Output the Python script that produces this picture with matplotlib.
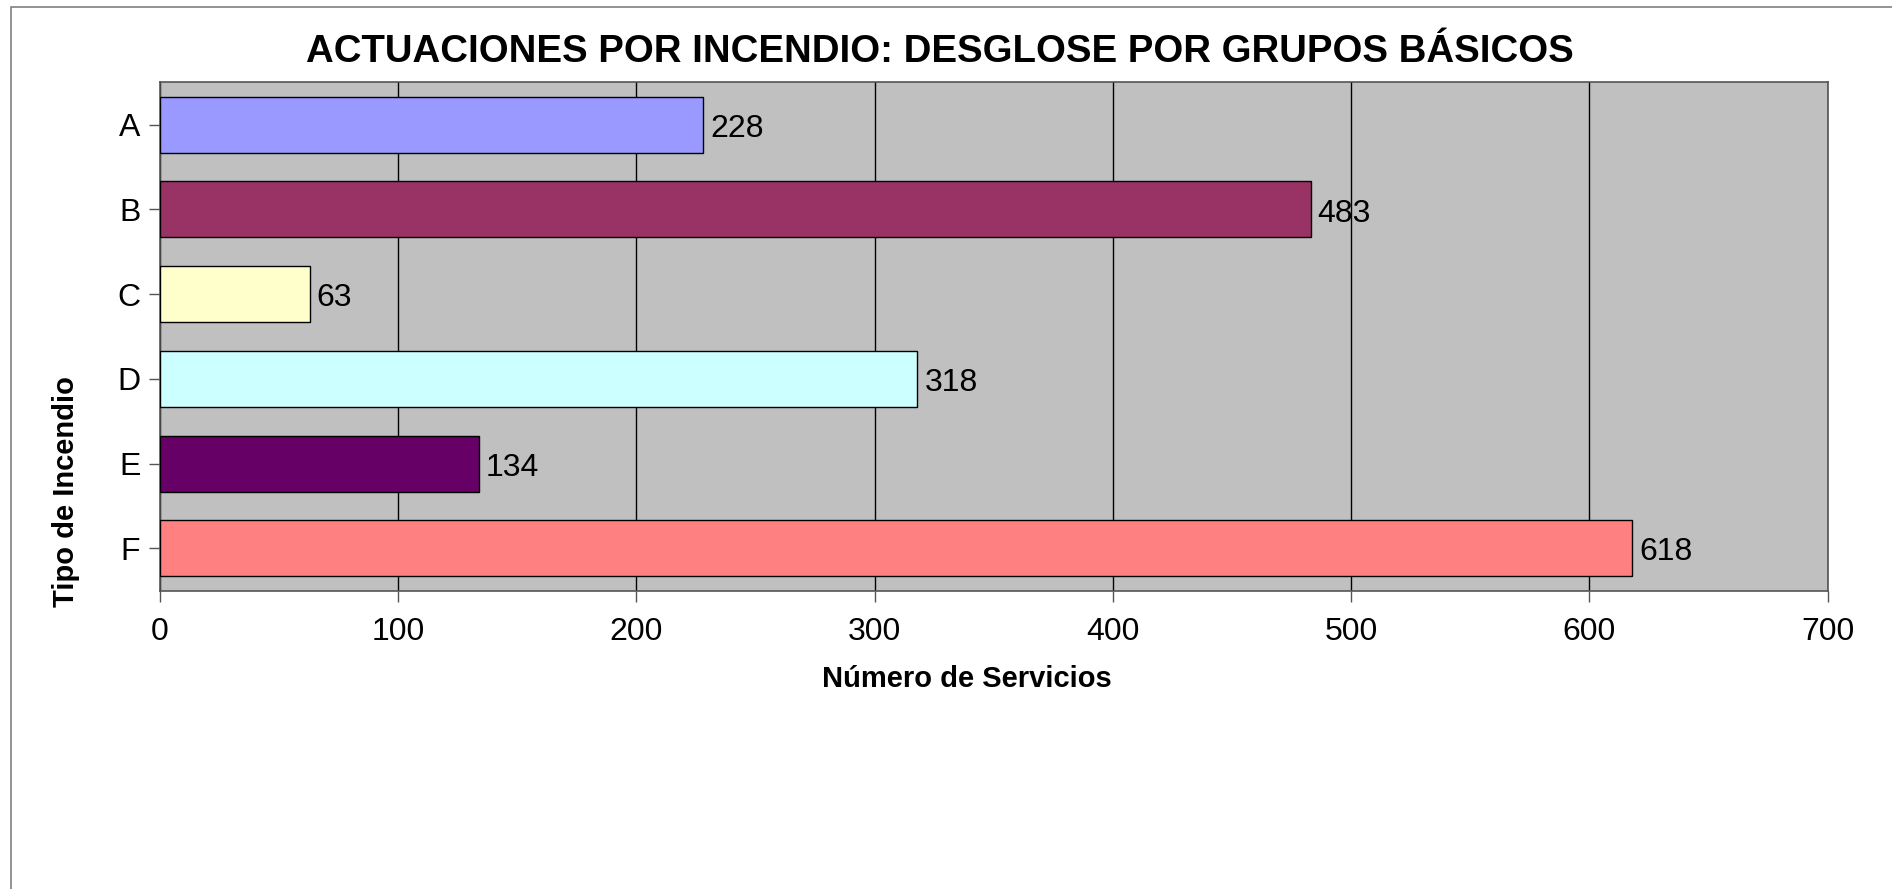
import matplotlib
matplotlib.use('Agg')
import matplotlib.pyplot as plt
from matplotlib.patches import Rectangle

plt.rcParams['font.family'] = ['Liberation Sans', 'DejaVu Sans']

# data
categorias = ['A', 'B', 'C', 'D', 'E', 'F']
servicios = [228, 483, 63, 318, 134, 618]
colores = ['#9999FF', '#993366', '#FFFFCC', '#CCFFFF', '#660066', '#FF8080']
x_ticks = [0, 100, 200, 300, 400, 500, 600, 700]

fig = plt.figure(figsize=(18.92, 8.89), dpi=100)
W, H = 1892, 889

# outer chart frame (clipped on the right and bottom)
fig.patches.append(Rectangle((11 / W, -0.1), 1.2, 1 - 7 / H + 0.1, transform=fig.transFigure,
                             fill=False, edgecolor='#808080', linewidth=1.2))

ax = fig.add_axes([159.7 / W, 1 - 590.7 / H, (1827.7 - 159.7) / W, (590.7 - 82.3) / H])
ax.set_facecolor('#C0C0C0')

y = list(range(len(categorias)))
ax.barh(y, servicios, height=0.66, color=colores, edgecolor='black', linewidth=1.0, zorder=3)
for yi, v in zip(y, servicios):
    ax.annotate(str(v), (v, yi), xytext=(5, -3), textcoords='offset points',
                ha='left', va='center', fontsize=23, zorder=4)

ax.set_xlim(0, 700)
ax.set_ylim(len(categorias) - 0.5, -0.5)
ax.set_xticks(x_ticks)
ax.set_yticks(y)
ax.set_yticklabels(categorias)
ax.grid(axis='x', color='black', linewidth=1.0, zorder=1)
ax.set_axisbelow(True)

for s in ax.spines.values():
    s.set_color('#555555')
    s.set_linewidth(1.2)

ax.tick_params(axis='both', labelsize=23, color='#555555', length=8, width=1.0)
ax.tick_params(axis='x', pad=11)
ax.tick_params(axis='y', pad=6)

fig.text(940 / W, 1 - 52 / H, 'ACTUACIONES POR INCENDIO: DESGLOSE POR GRUPOS BÁSICOS',
         ha='center', va='center', fontsize=27.6, fontweight='bold')
fig.text(967 / W, 1 - 679 / H, 'Número de Servicios', ha='center', va='center',
         fontsize=21, fontweight='bold')
fig.text(66 / W, 1 - 492 / H, 'Tipo de Incendio', ha='center', va='center',
         fontsize=21, fontweight='bold', rotation=90)

fig.savefig('out.png', dpi=100, facecolor='white')
